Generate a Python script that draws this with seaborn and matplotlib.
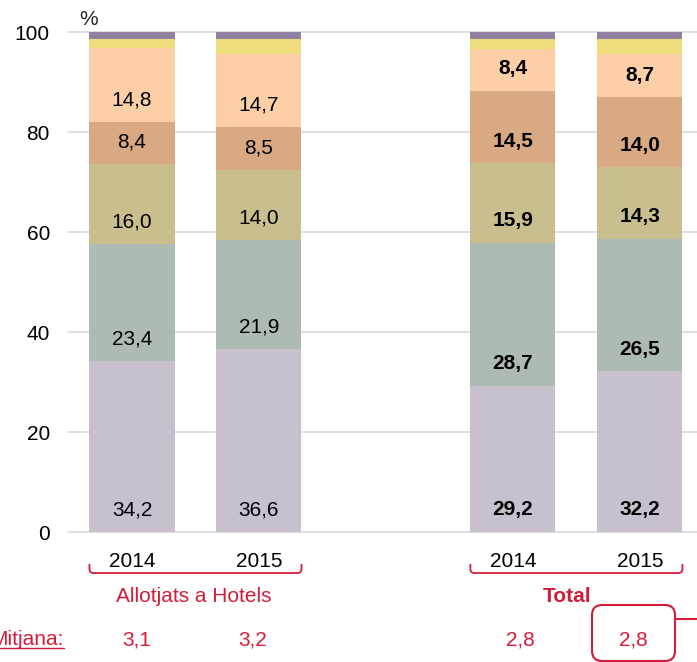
import numpy as np
import matplotlib
matplotlib.use("Agg")
import matplotlib.pyplot as plt
from matplotlib.patches import FancyBboxPatch, PathPatch
from matplotlib.path import Path
from matplotlib.transforms import Affine2D
import seaborn as sns

# ---- data -------------------------------------------------------------
years = ["2014", "2015", "2014", "2015"]
groups = ["Allotjats a Hotels", "Total"]
bar_pos = [0, 1, 3, 4]

layer0 = [34.2, 36.6, 29.2, 32.2]
layer1 = [23.4, 21.9, 28.7, 26.5]
layer2 = [16.0, 14.0, 15.9, 14.3]
layer3 = [8.4, 8.5, 14.5, 14.0]
layer4 = [14.8, 14.7, 8.4, 8.7]
layer5 = [1.9, 3.0, 2.0, 3.0]
layer6 = [1.3, 1.3, 1.3, 1.3]

mitjana = [3.1, 3.2, 2.8, 2.8]

# ---- style ------------------------------------------------------------
colors = ["#C9C0CE", "#AEBBB3", "#C9BF8E", "#D8A983",
          "#FCCFA6", "#EEDD7C", "#8F819F"]
red = "#D41C3A"
labelled_layers = 5
fs = 15

sns.set_style("white")
plt.rcParams["font.family"] = ["Liberation Sans", "DejaVu Sans"]

W, H = 697, 662
fig = plt.figure(figsize=(W / 100, H / 100), dpi=100)
ax = fig.add_axes([68 / W, 1 - 532 / H, 1 - 68 / W, 500 / H])

layers = np.array([layer0, layer1, layer2, layer3, layer4, layer5, layer6])
tops = np.cumsum(layers, axis=0)
bases = tops - layers

# stacked bars: draw cumulative heights from the top layer down
for i in range(len(layers) - 1, -1, -1):
    sns.barplot(x=bar_pos, y=tops[i], native_scale=True, color=colors[i],
                saturation=1, width=0.67, linewidth=0, errorbar=None, ax=ax)

ax.set_xlim(-0.504, 4.45)
ax.set_ylim(0, 100)
ax.set_yticks(range(0, 101, 20))
ax.set_xticks([])
ax.set_xlabel("")
ax.set_ylabel("")
ax.yaxis.grid(True, color="#D9D9D9", lw=1.2)
for gl in ax.get_ygridlines():
    gl.set_clip_on(False)
ax.set_axisbelow(True)
for s in ax.spines.values():
    s.set_visible(False)
ax.tick_params(axis="y", length=0, pad=13, labelsize=fs, labelcolor="black")

# segment labels, set just above each segment's base
for j, p in enumerate(bar_pos):
    weight = "bold" if j >= 2 else "normal"
    for i in range(labelled_layers):
        txt = f"{layers[i, j]:.1f}".replace(".", ",")
        ax.text(p, bases[i, j] + 3.3, txt, ha="center", va="baseline",
                fontsize=fs, fontweight=weight, color="black")

# pixel frame measured from the top-left corner
pix = Affine2D().scale(1 / W, -1 / H).translate(0, 1) + fig.transFigure


def xpx(x):
    return ax.transData.transform((x, 0))[0]


fig.text(89, 25, "%", transform=pix, ha="center", va="baseline", fontsize=fs)

for p, yr in zip(bar_pos, years):
    fig.text(xpx(p), 567, yr, transform=pix, ha="center", va="baseline",
             fontsize=fs, color="black")

# group brackets
half = 0.335
for a, b in [(0, 1), (3, 4)]:
    x0, x1 = xpx(a - half), xpx(b + half)
    r = 4
    verts = [(x0, 564), (x0, 573 - r), (x0, 573), (x0 + r, 573),
             (x1 - r, 573), (x1, 573), (x1, 573 - r), (x1, 564)]
    codes = [Path.MOVETO, Path.LINETO, Path.CURVE3, Path.CURVE3,
             Path.LINETO, Path.CURVE3, Path.CURVE3, Path.LINETO]
    fig.add_artist(PathPatch(Path(verts, codes), transform=pix, fc="none",
                             ec=red, lw=1.3))

fig.text(xpx(0.49), 602, groups[0], transform=pix, ha="center",
         va="baseline", fontsize=fs, color=red)
fig.text(xpx(3.43), 602, groups[1], transform=pix, ha="center",
         va="baseline", fontsize=fs, color=red, fontweight="bold")

# average stay row
fig.text(64, 645, "Mitjana:", transform=pix, ha="right", va="baseline",
         fontsize=fs, color=red)
fig.add_artist(plt.Line2D([0, 64], [648, 648], transform=pix,
                          color=red, lw=1))
value_x = [0.04, 0.95, 3.06, 3.95]
for vx, m in zip(value_x, mitjana):
    fig.text(xpx(vx), 645, f"{m:.1f}".replace(".", ","), transform=pix,
             ha="center", va="baseline", fontsize=fs, color=red)

bx = xpx(value_x[-1])
fig.add_artist(FancyBboxPatch((bx - 41.5, 605), 83, 56,
                              boxstyle="round,pad=0,rounding_size=10",
                              transform=pix, fc="none", ec=red, lw=1.5))
fig.add_artist(plt.Line2D([bx + 41.5, W], [619, 619], transform=pix,
                          color=red, lw=1.5))

fig.savefig("out.png", dpi=100)
